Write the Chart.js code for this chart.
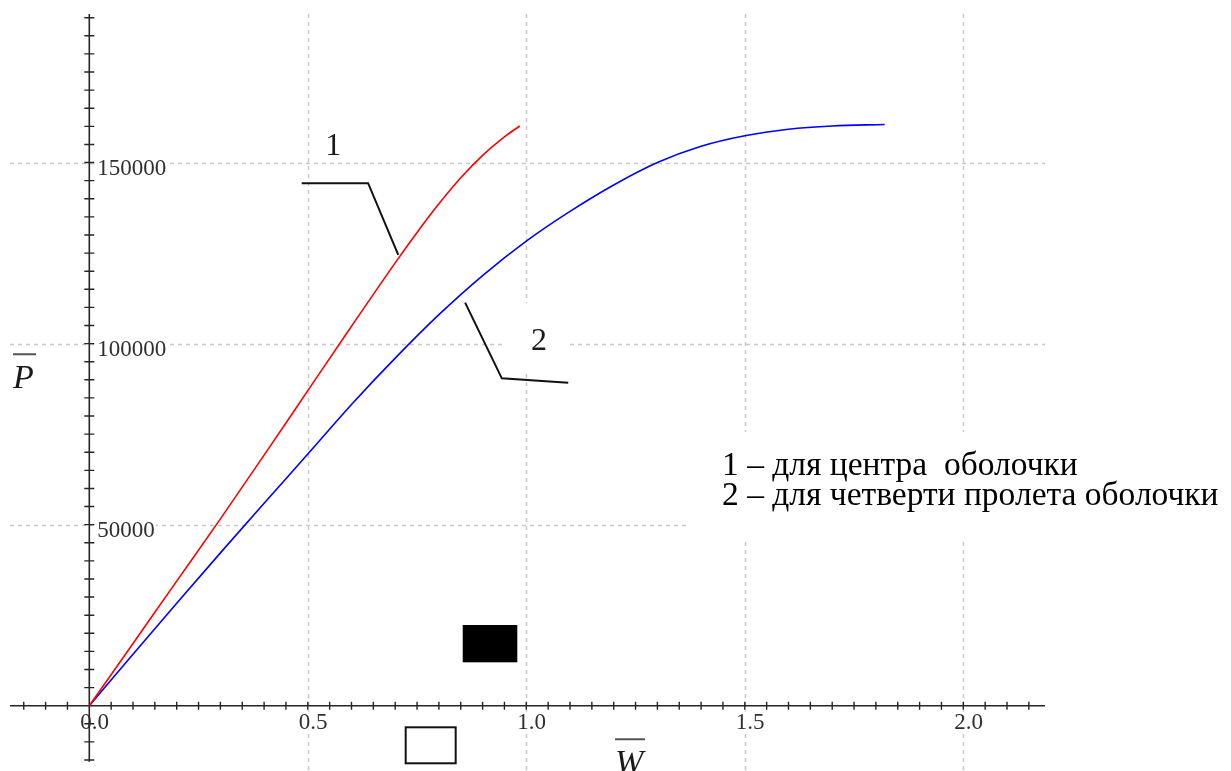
<!DOCTYPE html>
<html>
<head>
<meta charset="utf-8">
<script src="https://cdn.jsdelivr.net/npm/chart.js@4.4.1/dist/chart.umd.min.js"></script>
<style>
html, body { margin: 0; padding: 0; background: #fff; }
#chart { display: block; }
</style>
</head>
<body>
<canvas id="chart" width="1231" height="771"></canvas>
<script>
'use strict';

// Curve 1 - centre of the shell (W, P)
var wCenter = [0, 0.1, 0.2, 0.3, 0.4, 0.5, 0.6, 0.7, 0.75, 0.8, 0.85, 0.9, 0.95, 0.985];
var pCenter = [0, 17200, 34400, 51600, 69200, 87000, 104800, 122300, 130700, 138600, 145800, 152000, 157100, 160100];

// Curve 2 - quarter of the span
var wQuarter = [0, 0.1, 0.2, 0.3, 0.4, 0.5, 0.6, 0.7, 0.8, 0.9, 1.0, 1.1, 1.2, 1.3, 1.4, 1.5, 1.6, 1.7, 1.82];
var pQuarter = [0, 14200, 28300, 42200, 55900, 69500, 83200, 96000, 108000, 118800, 128300, 136500, 143800, 150000, 154500, 157400, 159200, 160100, 160500];

// Labelled ticks
var xTickValues = [0, 0.5, 1.0, 1.5, 2.0];
var xTickLabels = ['0.0', '0.5', '1.0', '1.5', '2.0'];
var yTickValues = [50000, 100000, 150000];
var yTickLabels = ['50000', '100000', '150000'];

var legendLines = ['1 \u2013 для центра  оболочки', '2 \u2013 для четверти пролета оболочки'];
var curveLabels = ['1', '2'];

function toPoints(xs, ys) {
    return xs.map(function (x, i) {
        return {x: x, y: ys[i]};
    });
}

var SERIF = '"Liberation Serif", "Times New Roman", serif';

// Decorations, in data units so they follow the scales
var deco = {
    axisX: [-0.1815, 2.187],
    axisY: [-15500, 191000],
    gridTop: 191000,
    leader1: [[0.486, 144300], [0.638, 144300], [0.707, 124500]],
    leader2: [[0.860, 111300], [0.944, 90400], [1.096, 89200]],
    label1: [0.558, 152100],
    label2: [1.029, 98200],
    filledBox: [0.8545, 22287, 0.9794, 11986],
    emptyBox: [0.724, -5965, 0.8384, -15907],
    mask2: [0.9466, 111240, 1.0999, 92184],
    legendMask: [1.3746, 75600, 2.7, 45760],
    legendPos: [1.4479, 63720, 55430],
    titleP: [-0.1746, 87739, 97045, -0.1219],
    titleW: [1.2030, -18530, -9279, 1.2716],
};

var drawPlugin = {
    id: 'shellDecor',
    beforeDatasetsDraw: function (chart) {
        var ctx = chart.ctx;
        var sx = chart.scales.x;
        var sy = chart.scales.y;
        var X = function (v) { return sx.getPixelForValue(v); };
        var Y = function (v) { return sy.getPixelForValue(v); };

        ctx.save();
        ctx.fillStyle = '#ffffff';
        ctx.fillRect(0, 0, chart.width, chart.height);

        // dashed grid
        ctx.strokeStyle = '#c8c8c8';
        ctx.lineWidth = 1.5;
        ctx.setLineDash([4, 4]);
        xTickValues.forEach(function (v) {
            if (v === 0) { return; }
            ctx.beginPath();
            ctx.moveTo(Math.round(X(v)) + 0.5, Y(deco.gridTop));
            ctx.lineTo(Math.round(X(v)) + 0.5, chart.height);
            ctx.stroke();
        });
        yTickValues.forEach(function (v) {
            ctx.beginPath();
            ctx.moveTo(X(deco.axisX[0]), Math.round(Y(v)) + 0.5);
            ctx.lineTo(X(deco.axisX[1]), Math.round(Y(v)) + 0.5);
            ctx.stroke();
        });
        ctx.setLineDash([]);

        // white boxes behind the text blocks
        ctx.fillStyle = '#ffffff';
        [deco.legendMask, deco.mask2].forEach(function (b) {
            ctx.fillRect(X(b[0]), Y(b[1]), X(b[2]) - X(b[0]), Y(b[3]) - Y(b[1]));
        });

        // tick labels
        ctx.font = '23px ' + SERIF;
        ctx.textBaseline = 'alphabetic';
        ctx.textAlign = 'left';
        var x0 = X(0);
        var y0 = Y(0);
        xTickValues.forEach(function (v, i) {
            var tx = X(v) - 9;
            var w = ctx.measureText(xTickLabels[i]).width;
            ctx.fillStyle = '#ffffff';
            ctx.fillRect(tx - 1, y0 + 6, w + 2, 20);
            ctx.fillStyle = '#303030';
            ctx.fillText(xTickLabels[i], tx, y0 + 23);
        });
        yTickValues.forEach(function (v, i) {
            var ty = Y(v) + 12;
            var w = ctx.measureText(yTickLabels[i]).width;
            ctx.fillStyle = '#ffffff';
            ctx.fillRect(x0 + 7, ty - 17, w + 2, 20);
            ctx.fillStyle = '#303030';
            ctx.fillText(yTickLabels[i], x0 + 8, ty);
        });

        // axes through the origin
        ctx.strokeStyle = '#262626';
        ctx.lineWidth = 1.6;
        ctx.beginPath();
        ctx.moveTo(X(deco.axisX[0]), y0);
        ctx.lineTo(X(deco.axisX[1]), y0);
        ctx.moveTo(x0, Y(deco.axisY[0]));
        ctx.lineTo(x0, Y(deco.axisY[1]));
        ctx.stroke();

        // minor ticks: 0.05 on W, 5000 on P
        ctx.lineWidth = 1.4;
        ctx.beginPath();
        for (var k = -3; k <= 43; k++) {
            if (k === 0) { continue; }
            var tx2 = X(k * 0.05);
            ctx.moveTo(tx2, y0 - 4);
            ctx.lineTo(tx2, y0 + 4);
        }
        for (var j = -3; j <= 38; j++) {
            if (j === 0) { continue; }
            var ty2 = Y(j * 5000);
            ctx.moveTo(x0 - 5, ty2);
            ctx.lineTo(x0 + 5, ty2);
        }
        ctx.stroke();
        ctx.restore();
    },
    afterDatasetsDraw: function (chart) {
        var ctx = chart.ctx;
        var sx = chart.scales.x;
        var sy = chart.scales.y;
        var X = function (v) { return sx.getPixelForValue(v); };
        var Y = function (v) { return sy.getPixelForValue(v); };

        ctx.save();
        // leader lines for the curve numbers
        ctx.strokeStyle = '#111111';
        ctx.lineWidth = 2;
        [deco.leader1, deco.leader2].forEach(function (pts) {
            ctx.beginPath();
            pts.forEach(function (p, i) {
                if (i === 0) {
                    ctx.moveTo(X(p[0]), Y(p[1]));
                } else {
                    ctx.lineTo(X(p[0]), Y(p[1]));
                }
            });
            ctx.stroke();
        });

        ctx.font = '32px ' + SERIF;
        ctx.textAlign = 'center';
        ctx.textBaseline = 'alphabetic';
        ctx.fillStyle = '#1a1a1a';
        ctx.fillText(curveLabels[0], X(deco.label1[0]), Y(deco.label1[1]));
        ctx.fillText(curveLabels[1], X(deco.label2[0]), Y(deco.label2[1]));

        // the two stray boxes of the original figure
        var fb = deco.filledBox;
        ctx.fillStyle = '#000000';
        ctx.fillRect(X(fb[0]), Y(fb[1]), X(fb[2]) - X(fb[0]), Y(fb[3]) - Y(fb[1]));
        var eb = deco.emptyBox;
        ctx.strokeStyle = '#111111';
        ctx.lineWidth = 2;
        ctx.strokeRect(X(eb[0]), Y(eb[1]), X(eb[2]) - X(eb[0]), Y(eb[3]) - Y(eb[1]));

        // legend text
        ctx.font = '33.5px ' + SERIF;
        ctx.textAlign = 'left';
        ctx.fillStyle = '#000000';
        ctx.fillText(legendLines[0], X(deco.legendPos[0]), Y(deco.legendPos[1]));
        ctx.fillText(legendLines[1], X(deco.legendPos[0]), Y(deco.legendPos[2]));

        // axis titles with overbars
        ctx.font = 'italic 34px ' + SERIF;
        ctx.fillStyle = '#1a1a1a';
        ctx.fillText('P', X(deco.titleP[0]), Y(deco.titleP[1]));
        ctx.fillText('W', X(deco.titleW[0]), Y(deco.titleW[1]));
        ctx.strokeStyle = '#555555';
        ctx.lineWidth = 2;
        ctx.beginPath();
        ctx.moveTo(X(deco.titleP[0]), Y(deco.titleP[2]));
        ctx.lineTo(X(deco.titleP[3]), Y(deco.titleP[2]));
        ctx.moveTo(X(deco.titleW[0]), Y(deco.titleW[2]));
        ctx.lineTo(X(deco.titleW[3]), Y(deco.titleW[2]));
        ctx.stroke();
        ctx.restore();
    },
};

var canvas = document.getElementById('chart');
new Chart(canvas.getContext('2d'), {
    type: 'scatter',
    data: {
        datasets: [{
            label: '1',
            data: toPoints(wCenter, pCenter),
            showLine: true,
            borderColor: '#ff0000',
            borderWidth: 1.6,
            pointRadius: 0,
            cubicInterpolationMode: 'monotone',
        }, {
            label: '2',
            data: toPoints(wQuarter, pQuarter),
            showLine: true,
            borderColor: '#0000ff',
            borderWidth: 1.6,
            pointRadius: 0,
            cubicInterpolationMode: 'monotone',
        }],
    },
    options: {
        responsive: false,
        animation: false,
        layout: {padding: 0},
        plugins: {
            legend: {display: false},
            tooltip: {enabled: false},
        },
        scales: {
            x: {type: 'linear', display: false, min: -89.3 / 437, max: (1231 - 89.3) / 437},
            y: {type: 'linear', display: false, min: -(771 - 705.7) / 0.003621, max: 705.7 / 0.003621},
        },
    },
    plugins: [drawPlugin],
});
</script>
</body>
</html>
